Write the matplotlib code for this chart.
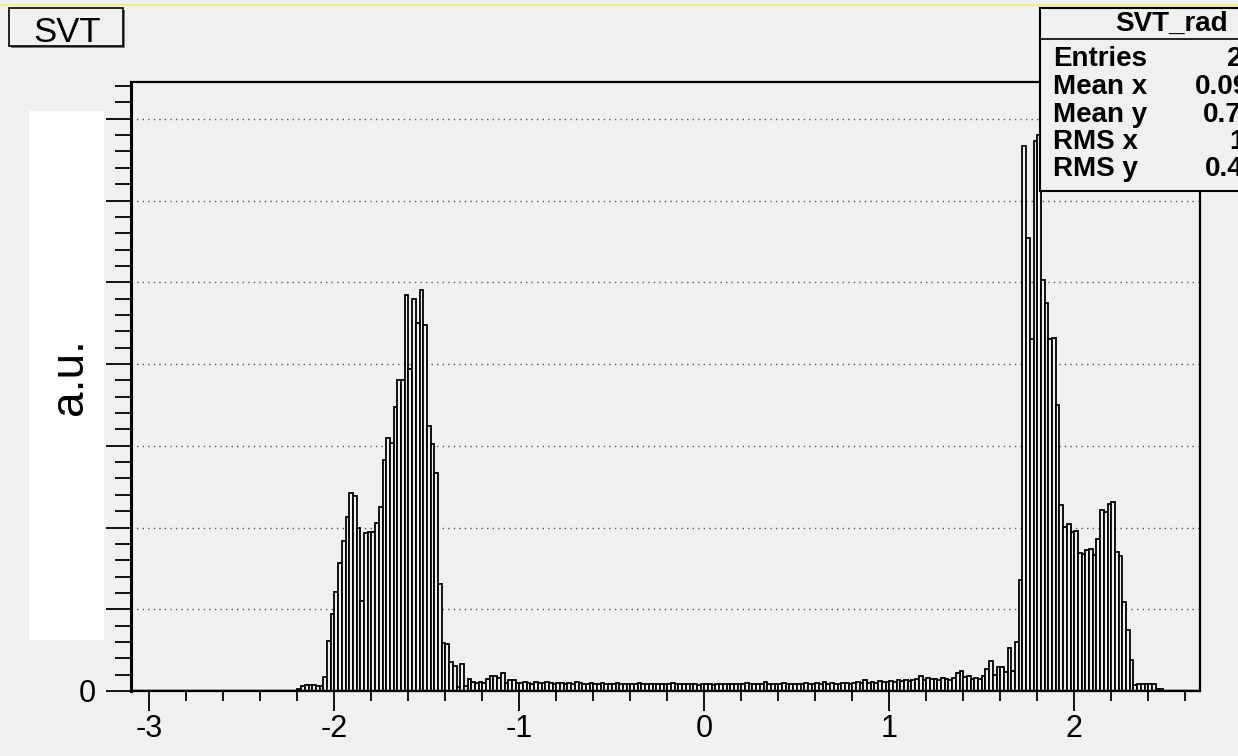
import numpy as np
import matplotlib.pyplot as plt
from matplotlib.patches import Rectangle
from matplotlib.lines import Line2D

plt.rcParams['font.family'] = ['Liberation Sans', 'DejaVu Sans']

# histogram: bins of 0.02 starting at -2.20 (everything else is empty)
x_start = -2.20
bin_width = 0.02

left_peak = [0.02, 0.06, 0.07, 0.07, 0.07, 0.06, 0.06, 0.17, 0.61, 0.94,
             1.21, 1.56, 1.84, 2.13, 2.42, 2.38, 1.99, 1.10, 1.93, 1.94,
             1.95, 2.05, 2.25, 2.83, 3.09, 3.03, 3.47, 3.81, 3.81, 4.85,
             3.94, 4.80, 4.50, 4.91, 4.48, 3.24, 3.02, 2.67, 1.31, 0.59,
             0.57, 0.36, 0.30, 0.05, 0.33, 0.06, 0.15, 0.11, 0.10]

flat = [0.11, 0.10, 0.15, 0.18, 0.18, 0.16, 0.22, 0.10, 0.14, 0.13,
        0.10, 0.10, 0.11, 0.10, 0.09, 0.11, 0.10, 0.10, 0.11, 0.10,
        0.09, 0.10, 0.10, 0.09, 0.10, 0.09, 0.11, 0.10, 0.09, 0.09,
        0.10, 0.09, 0.09, 0.10, 0.08, 0.09, 0.09, 0.10, 0.08, 0.09,
        0.09, 0.08, 0.09, 0.10, 0.09, 0.08, 0.08, 0.09, 0.08, 0.08,
        0.09, 0.08, 0.10, 0.09, 0.08, 0.09, 0.08, 0.09, 0.08, 0.07,
        0.08, 0.09, 0.08, 0.07, 0.09, 0.08, 0.09, 0.08, 0.09, 0.08,
        0.08, 0.09, 0.10, 0.08, 0.09, 0.09, 0.08, 0.11, 0.09, 0.08,
        0.09, 0.08, 0.10, 0.09, 0.08, 0.09, 0.09, 0.08, 0.10, 0.09,
        0.09, 0.10, 0.09, 0.11, 0.09, 0.10, 0.09, 0.09, 0.10, 0.10,
        0.09, 0.10, 0.11, 0.10, 0.13, 0.10, 0.11, 0.10, 0.12, 0.11,
        0.11, 0.12, 0.11, 0.13, 0.12, 0.14, 0.12, 0.13, 0.15, 0.18,
        0.14, 0.16, 0.15, 0.15, 0.14, 0.16, 0.15, 0.14, 0.16, 0.22,
        0.24, 0.17, 0.18, 0.15, 0.16, 0.15]

right_peak = [0.18, 0.27, 0.37, 0.20, 0.29, 0.29, 0.23, 0.52, 0.25, 0.60,
              1.36, 6.67, 5.54, 4.30, 6.73, 6.80, 5.03, 4.75, 4.30, 4.32,
              3.50, 2.28, 2.01, 2.04, 1.95, 1.96, 1.69, 1.67, 1.73, 1.74,
              1.66, 1.86, 2.22, 2.19, 2.29, 2.31, 1.70, 1.65, 1.09, 0.75,
              0.38, 0.07, 0.08, 0.08, 0.09, 0.09, 0.09, 0.02, 0.02]

counts = np.array(left_peak + flat + right_peak)
edges = x_start + bin_width * np.arange(len(counts))

x_major = [-3, -2, -1, 0, 1, 2]
x_labels = ['-3', '-2', '-1', '0', '1', '2']
y_major = [0, 1, 2, 3, 4, 5, 6, 7]
y_labels = ['0', '', '', '', '', '', '', '']

stat_names = ['Entries', 'Mean x', 'Mean y', 'RMS x', 'RMS y']
stat_values = ['2', '0.09', '0.7', '1', '0.4']

bg = '#f0f0f0'
W, H = 1238, 756

fig = plt.figure(figsize=(W / 100, H / 100), dpi=100, facecolor=bg)
ax = fig.add_axes([131 / W, 1 - 691 / H, (1200 - 131) / W, (691 - 82) / H])
ax.set_facecolor(bg)

ax.bar(edges, counts, width=bin_width, align='edge', facecolor=bg,
       edgecolor='black', linewidth=1.3, zorder=3)
ax.axhline(0, color='black', linewidth=2.5, zorder=4)

ax.set_xlim(-3.1, 2.68)
ax.set_ylim(0, 7.45)

ax.set_xticks(x_major)
ax.set_xticklabels(x_labels)
ax.set_xticks(np.arange(-3.0, 2.7, 0.2), minor=True)
ax.set_yticks(y_major)
ax.set_yticklabels(y_labels)
ax.set_yticks(np.arange(0, 7.45, 0.2), minor=True)

ax.tick_params(axis='x', which='major', direction='out', length=14.5, width=1.3,
               labelsize=22, pad=2)
ax.tick_params(axis='x', which='minor', direction='out', length=7.2, width=1.3)
ax.tick_params(axis='y', which='major', direction='out', length=18, width=1.3,
               labelsize=22, pad=7)
ax.tick_params(axis='y', which='minor', direction='out', length=11.5, width=1.3)

ax.yaxis.grid(True, which='major', color='#555555', linestyle=(0, (1, 3)),
              linewidth=1.0, zorder=1)
ax.set_axisbelow(True)

for side in ['top', 'right', 'bottom']:
    ax.spines[side].set_linewidth(1.6)
ax.spines['left'].set_linewidth(2.2)

# white patch over the y tick labels, and the axis title
fig.add_artist(Rectangle((29 / W, 1 - 640 / H), 75 / W, 529 / H,
                         transform=fig.transFigure, facecolor='white',
                         edgecolor='none', zorder=5))
fig.text(70 / W, 1 - 377 / H, 'a.u.', rotation=90, fontsize=33,
         ha='center', va='center', zorder=6)

# thin line at the very top
fig.add_artist(Line2D([0, 1], [1 - 5 / H, 1 - 5 / H], transform=fig.transFigure,
                      color='#f5f07a', linewidth=1.5))

# title box
fig.add_artist(Rectangle((11 / W, 1 - 48 / H), 114 / W, 38 / H,
                         transform=fig.transFigure, facecolor='#777777',
                         edgecolor='none', zorder=6))
fig.add_artist(Rectangle((9 / W, 1 - 46 / H), 114 / W, 38 / H,
                         transform=fig.transFigure, facecolor=bg,
                         edgecolor='black', linewidth=1.2, zorder=7))
fig.text(67 / W, 1 - 32 / H, 'SVT', fontsize=25, ha='center', va='center',
         zorder=8)

# stats box (runs off the right edge, like the original canvas)
fig.add_artist(Rectangle((1040 / W, 1 - 191 / H), 220 / W, 183 / H,
                         transform=fig.transFigure, facecolor=bg,
                         edgecolor='black', linewidth=1.5, zorder=7))
fig.add_artist(Line2D([1040 / W, 1], [1 - 39 / H, 1 - 39 / H],
                      transform=fig.transFigure, color='black', linewidth=1.2,
                      zorder=8))
fig.text(1115 / W, 1 - 24 / H, 'SVT_rad', fontsize=20, fontweight='bold',
         ha='left', va='center', zorder=9)
row_y = [59, 87, 115, 142, 169]
value_x = [1227, 1195, 1203, 1229, 1205]
for name, val, yy, vx in zip(stat_names, stat_values, row_y, value_x):
    fig.text(1053 / W, 1 - yy / H, name, fontsize=20, fontweight='bold',
             ha='left', va='center', zorder=9)
    fig.text(vx / W, 1 - yy / H, val, fontsize=20, fontweight='bold',
             ha='left', va='center', zorder=9)

fig.savefig('out.png', dpi=100, facecolor=bg)
